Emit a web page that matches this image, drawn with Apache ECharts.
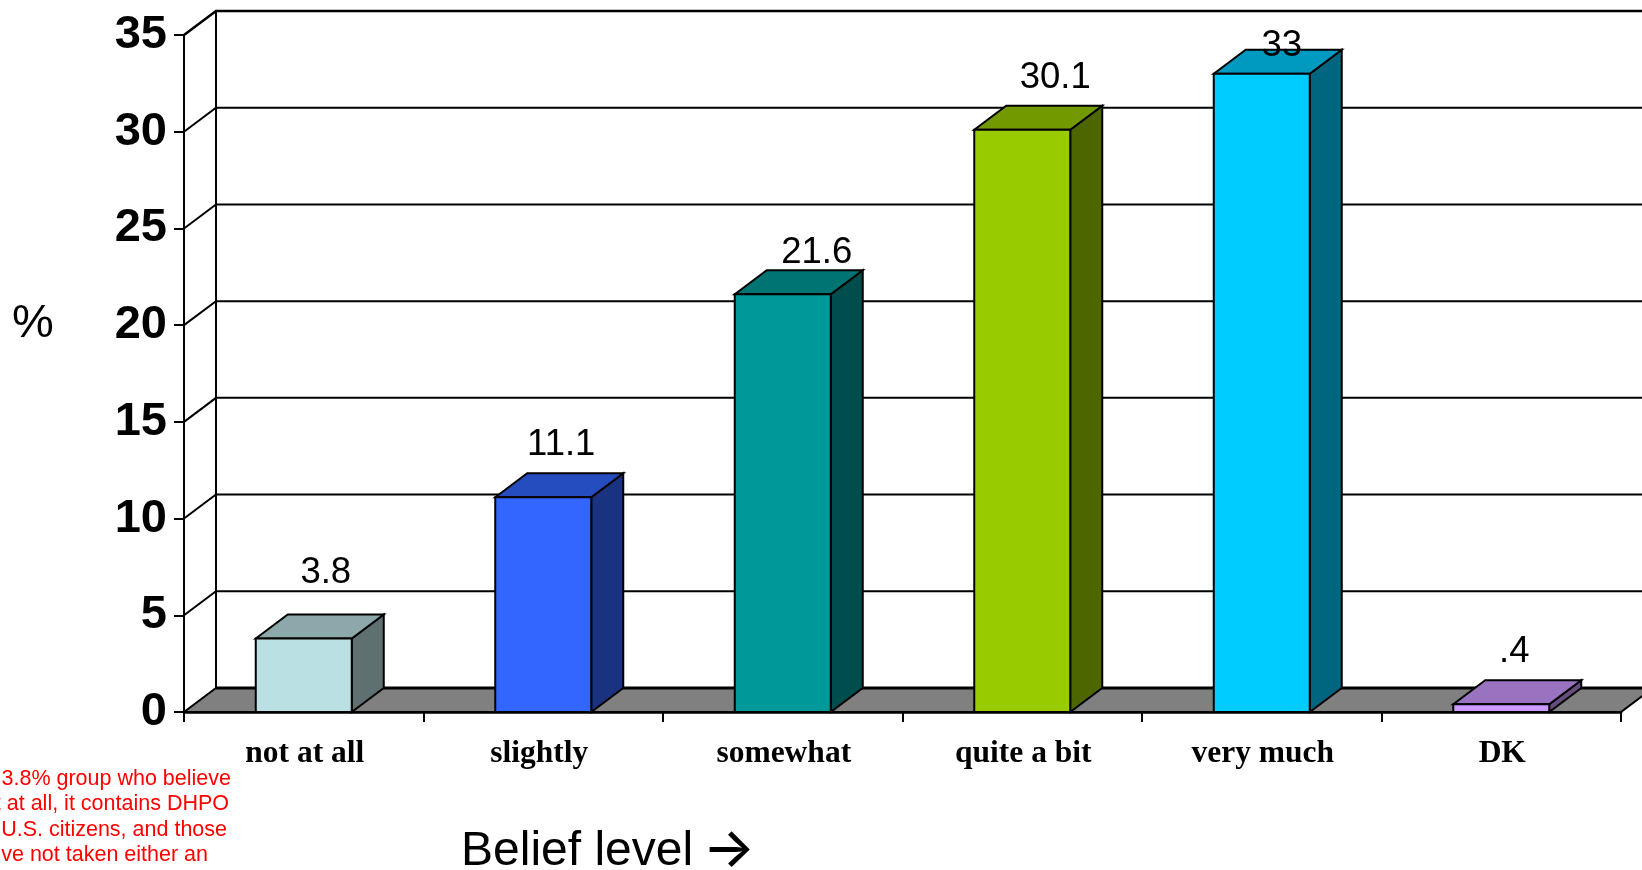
<!DOCTYPE html>
<html>
<head>
<meta charset="utf-8">
<style>html,body{margin:0;padding:0;background:#fff}#chart{width:1642px;height:870px}</style>
<script src="https://cdn.jsdelivr.net/npm/echarts@6/dist/echarts.min.js"></script>
</head>
<body>
<div id="chart"></div>
<script>
// Belief level survey results, in percent
var categories = ['not at all', 'slightly', 'somewhat', 'quite a bit', 'very much', 'DK'];
var percents = [3.8, 11.1, 21.6, 30.1, 33, 0.4];
var valueLabels = ['3.8', '11.1', '21.6', '30.1', '33', '.4'];
var yTicks = [0, 5, 10, 15, 20, 25, 30, 35];
var barColors = ['#BBE0E3', '#3366FF', '#009999', '#99CC00', '#00CCFF', '#CC99FF'];
var noteLines = ['3.8% group who believe', 't at all, it contains DHPO', 'U.S. citizens, and those', 've not taken either an'];

// Layout of the box: oblique depth of the floor, walls and bars
var DEPTH_X = 32, DEPTH_Y = 24;
var BAR_WIDTH = 96;
var labelNudge = [[22, -66], [18, -52], [34, -41], [33, -52], [20, -28], [13, -52]];
var noteRight = [231, 229, 227, 208];
var noteY = [779, 804, 830, 855.5];

function shade(hex, k) {
  var n = parseInt(hex.slice(1), 16);
  var c = [(n >> 16) & 255, (n >> 8) & 255, n & 255].map(function (v) { return Math.round(v * k); });
  return 'rgb(' + c.join(',') + ')';
}

function poly(points, fill) {
  return { type: 'polygon', shape: { points: points }, style: { fill: fill, stroke: '#000', lineWidth: 2, lineJoin: 'miter' } };
}

// Floor and the two back walls, plus the gridlines that wrap around them
function renderBox(params, api) {
  var y0 = api.coord([0, 0])[1];
  var yTop = api.coord([0, yTicks[yTicks.length - 1]])[1];
  var left = params.coordSys.x;
  var right = left + params.coordSys.width;
  var dx = DEPTH_X, dy = DEPTH_Y;
  var children = [
    poly([[left, y0], [left + dx, y0 - dy], [right + dx, y0 - dy], [right, y0]], '#808080'),
    { type: 'line', shape: { x1: left + dx, y1: y0 - dy, x2: right + dx, y2: y0 - dy }, style: { stroke: '#000', lineWidth: 3 } },
    { type: 'line', shape: { x1: left + dx, y1: y0 - dy, x2: left + dx, y2: yTop - dy }, style: { stroke: '#000', lineWidth: 2 } }
  ];
  yTicks.slice(1).forEach(function (t) {
    var y = api.coord([0, t])[1];
    children.push({ type: 'polyline', shape: { points: [[left, y], [left + dx, y - dy], [right + dx, y - dy]] },
      style: { fill: 'none', stroke: '#000', lineWidth: t === 35 ? 2.6 : 2 } });
  });
  return { type: 'group', children: children };
}

// One oblique bar: front face, lit top, shaded side
function renderBar(params, api) {
  var i = api.value(0);
  var p = api.coord([i, api.value(1)]);
  var base = api.coord([i, 0]);
  var x1 = p[0] - BAR_WIDTH / 2, x2 = p[0] + BAR_WIDTH / 2;
  var dx = DEPTH_X, dy = DEPTH_Y;
  var color = barColors[i];
  return { type: 'group', children: [
    poly([[x2, p[1]], [x2 + dx, p[1] - dy], [x2 + dx, base[1] - dy], [x2, base[1]]], shade(color, 0.5)),
    poly([[x1, p[1]], [x1 + dx, p[1] - dy], [x2 + dx, p[1] - dy], [x2, p[1]]], shade(color, 0.75)),
    poly([[x1, p[1]], [x2, p[1]], [x2, base[1]], [x1, base[1]]], color)
  ] };
}

function renderLabel(params, api) {
  var i = api.value(0);
  var p = api.coord([i, api.value(1)]);
  return { type: 'text', x: p[0] + labelNudge[i][0], y: p[1] + labelNudge[i][1],
    style: { text: valueLabels[i], fill: '#000', font: '36.5px "Liberation Sans"', textAlign: 'center', textVerticalAlign: 'middle' } };
}

var barData = percents.map(function (v, i) { return [i, v]; });

var graphics = [
  { type: 'text', x: 33, y: 324, style: { text: '%', fill: '#000', font: '47px "Liberation Sans"', textAlign: 'center', textVerticalAlign: 'middle' } },
  { type: 'text', x: 461, y: 852, style: { text: 'Belief level', fill: '#000', font: '48px "Liberation Sans"', textAlign: 'left', textVerticalAlign: 'middle' } },
  { type: 'text', x: 729, y: 850, style: { text: '\u2192', fill: '#000', font: '500 55px "Inter"', textAlign: 'center', textVerticalAlign: 'middle' } }
];
noteLines.forEach(function (line, i) {
  graphics.push({ type: 'text', x: noteRight[i], y: noteY[i],
    style: { text: line, fill: '#FF0000', font: '21.5px "Liberation Sans"', textAlign: 'right', textVerticalAlign: 'middle' } });
});

var chart = echarts.init(document.getElementById('chart'), null, { renderer: 'canvas' });
chart.setOption({
  animation: false,
  backgroundColor: '#fff',
  grid: { left: 184, top: 35, width: 1437, height: 677, containLabel: false },
  xAxis: {
    type: 'category', data: categories, boundaryGap: true,
    axisLine: { show: true, lineStyle: { color: '#000', width: 2.5 } },
    axisTick: { show: true, length: 10, alignWithLabel: false, lineStyle: { color: '#000', width: 2 } },
    axisLabel: { color: '#000', fontFamily: 'Liberation Serif', fontWeight: 'bold', fontSize: 31.5, margin: 26, interval: 0,
      formatter: function (v) { return v === 'slightly' ? '{shifted|' + v + '}' : '{plain|' + v + '}'; },
      rich: {
        plain: { color: '#000', fontFamily: 'Liberation Serif', fontWeight: 'bold', fontSize: 31.5, padding: [0, 0, 0, 2] },
        shifted: { color: '#000', fontFamily: 'Liberation Serif', fontWeight: 'bold', fontSize: 31.5, padding: [0, 8, 0, 0] }
      } },
    splitLine: { show: false }
  },
  yAxis: {
    type: 'value', min: 0, max: 35, interval: 5,
    axisLine: { show: true, lineStyle: { color: '#000', width: 2 } },
    axisTick: { show: true, length: 10, lineStyle: { color: '#000', width: 2 } },
    axisLabel: { color: '#000', fontFamily: 'Liberation Sans', fontWeight: 'bold', fontSize: 47, margin: 17, padding: [3, 0, 0, 0] },
    splitLine: { show: false }
  },
  graphic: graphics,
  series: [
    { type: 'custom', coordinateSystem: 'cartesian2d', renderItem: renderBox, data: [[0, 0]], z: 1, silent: true, clip: false },
    { type: 'custom', coordinateSystem: 'cartesian2d', renderItem: renderBar, data: barData, encode: { x: 0, y: 1 }, z: 3, clip: false },
    { type: 'custom', coordinateSystem: 'cartesian2d', renderItem: renderLabel, data: barData, encode: { x: 0, y: 1 }, z: 4, clip: false }
  ]
});
</script>
</body>
</html>
